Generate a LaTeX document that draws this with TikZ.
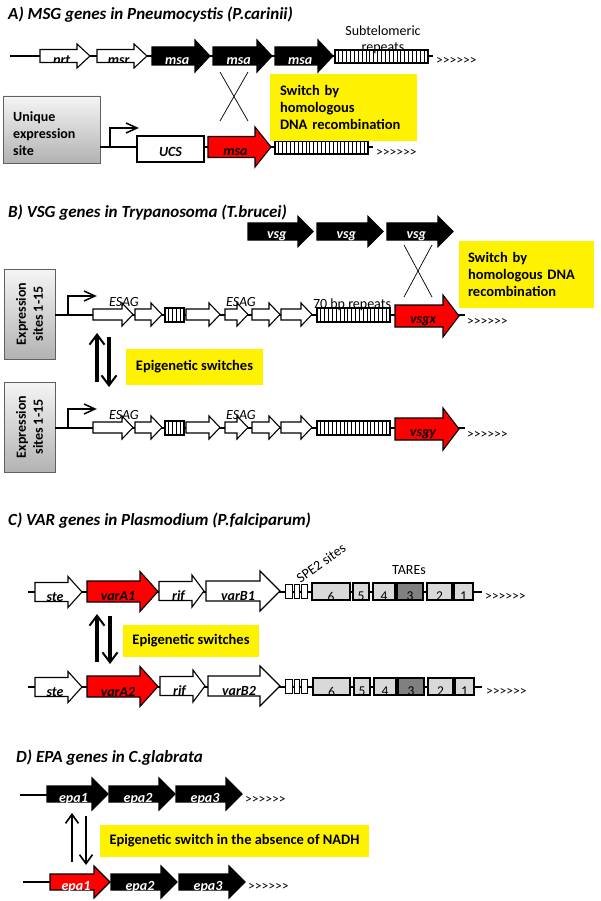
\documentclass[tikz,border=0pt]{standalone}
\usepackage{fontspec}
\setmainfont{Carlito}
\usepackage{tikz}
\usetikzlibrary{arrows.meta,calc,positioning}

% gene arrow: fill, x start, x tip, y, half body, half head, head length, label, label colour
\newcommand{\gene}[9]{%
  \filldraw[fill=#1, line width=1.1pt] (#2,#4-#5) -- (#3-#7,#4-#5) -- (#3-#7,#4-#6) -- (#3,#4)
    -- (#3-#7,#4+#6) -- (#3-#7,#4+#5) -- (#2,#4+#5) -- cycle;
  \begin{scope}
    \clip (#2,#4-#5) -- (#3-#7,#4-#5) -- (#3-#7,#4-#6) -- (#3,#4)
      -- (#3-#7,#4+#6) -- (#3-#7,#4+#5) -- (#2,#4+#5) -- cycle;
    \node[genelabel, text=#9] at ({(#2+#3-#7/2)/2},#4+5) {#8};
  \end{scope}}
% hatched repeats: x0, x1, y0, y1
\newcommand{\repeats}[4]{%
  \filldraw[fill=white, line width=1.1pt] (#1,#3) rectangle (#2,#4);
  \pgfmathtruncatemacro{\nrep}{(#2-#1)/4}
  \foreach \k in {1,...,\nrep}{\draw[line width=0.8pt] ({#1+(#2-#1)*\k/(\nrep+1)},#3) -- ({#1+(#2-#1)*\k/(\nrep+1)},#4);}}
% TARE block: x0, x1, y, fill, number
\newcommand{\tare}[5]{%
  \filldraw[fill=#4, line width=1.1pt] (#1,#3-8.5) rectangle (#2,#3+8.5);
  \begin{scope}
    \clip (#1,#3-8.5) rectangle (#2,#3+8.5);
    \node[numlabel] at ({(#1+#2)/2},#3+5) {#5};
  \end{scope}}
% promoter: x, y of line, y of bend, x of tip
\newcommand{\promoter}[4]{%
  \draw[line width=1.3pt] (#1,#2) -- (#1,#3) -- (#4-1,#3);
  \draw[line width=1.5pt] (#4-11,#3-5) -- (#4,#3) -- (#4-11,#3+5);}
\newcommand{\tailmarks}{>{}>{}>{}>{}>{}>}

\tikzset{
  chrom/.style={line width=2.6pt},
  genelabel/.style={inner sep=0pt, font=\fontsize{14}{15}\selectfont\bfseries\itshape},
  numlabel/.style={inner sep=0pt, font=\fontsize{13.5}{14}\selectfont},
  plain/.style={inner sep=0pt, align=center, font=\fontsize{14}{16}\selectfont},
  title/.style={anchor=west, inner sep=0pt, font=\fontsize{17}{19}\selectfont\bfseries\itshape},
  tail/.style={anchor=west, inner sep=0pt, font=\fontsize{13.5}{14}\selectfont},
  hint/.style={fill=yellow, inner sep=0pt, align=center, font=\fontsize{14.5}{17}\selectfont\bfseries},
  sitebox/.style={draw=gray!75!black, line width=0.9pt, top color=gray!8, bottom color=gray!60},
  sitetext/.style={inner sep=0pt, font=\fontsize{14}{17}\selectfont\bfseries},
  swapline/.style={line width=3.5pt, -{Straight Barb[length=10pt,width=15pt,line width=2pt]}},
  swapthin/.style={line width=2.2pt, -{Straight Barb[length=9pt,width=13pt,line width=1.6pt]}},
}

\begin{document}
\begin{tikzpicture}[x=1pt,y=-1pt]
\useasboundingbox (0,0) rectangle (600,901);

%%% A) Pneumocystis
\node[title] (titA) at (8,15) {A) MSG genes in Pneumocystis (P.carinii)};
\draw[chrom] (10,56) -- (433,56);
\gene{white}{40}{90}{56}{6.5}{12}{13}{prt}{black}
\gene{white}{97}{147}{56}{6.5}{12}{13}{msr}{black}
\gene{black}{152}{210}{56}{9}{16}{15}{msa}{white}
\gene{black}{213}{272}{56}{9}{16}{15}{msa}{white}
\gene{black}{275}{333}{56}{9}{16}{15}{msa}{white}
\repeats{335}{428}{50}{63}
\node[plain] (subtel) at (383,40) {Subtelomeric\\repeats};
\node[tail] (tailA1) at (436,61) {\tailmarks};

\draw[line width=0.7pt] (220,72) -- (248,121);
\draw[line width=0.7pt] (248,72) -- (220,121);

\draw[sitebox] (3,96) rectangle (100,163);
\node[sitetext, anchor=west, align=left] (uniq) at (13,134) {Unique\\expression\\site};
\draw[chrom] (100,147) -- (373,147);
\promoter{110}{147}{128}{137}
\filldraw[fill=white, line width=1.1pt] (137,136) rectangle (204,162);
\node[genelabel] (ucs) at (170.5,152) {UCS};
\gene{red}{208}{271}{147}{10.5}{20}{16}{msa}{black}
\repeats{275}{368}{141}{154}
\node[tail] (tailA2) at (376,153) {\tailmarks};
\node[hint, align=left, minimum width=147pt, minimum height=67pt, text width=127pt] (swA) at (343.5,107.5) {Switch by\\homologous\\DNA recombination};

%%% B) Trypanosoma
\node[title] (titB) at (8,213) {B) VSG genes in Trypanosoma (T.brucei)};
\gene{black}{248}{313}{231.5}{8.5}{15}{15}{vsg}{white}
\gene{black}{317}{383}{231.5}{8.5}{15}{15}{vsg}{white}
\gene{black}{387}{453}{231.5}{8.5}{15}{15}{vsg}{white}
\draw[line width=0.7pt] (404,245) -- (432,297);
\draw[line width=0.7pt] (432,245) -- (404,297);
\node[hint, align=left, minimum width=135pt, minimum height=67pt, text width=117pt] (swB) at (526.5,274.5) {Switch by\\homologous DNA\\recombination};

% expression site 1
\draw[sitebox] (4,269) rectangle (55,359);
\node[sitetext, rotate=90, align=center] (esB1) at (29.5,314) {Expression\\sites 1-15};
\draw[chrom] (55,315) -- (465,315);
\promoter{68}{315}{296}{95}
\gene{white}{93}{133}{314.5}{5.5}{11.5}{11}{}{black}
\gene{white}{135}{162}{314.5}{5.5}{11.5}{11}{}{black}
\repeats{165}{184}{308}{322}
\gene{white}{186}{220}{314.5}{5.5}{11.5}{11}{}{black}
\gene{white}{225}{248}{314.5}{5.5}{11.5}{11}{}{black}
\gene{white}{252}{280}{314.5}{5.5}{11.5}{11}{}{black}
\gene{white}{281}{312}{314.5}{5.5}{11.5}{11}{}{black}
\repeats{317}{390}{308}{322}
\gene{red}{395}{459}{316}{11}{21}{16}{vsgx}{black}
\node[plain, font=\fontsize{14}{16}\selectfont\itshape] (esagB1) at (124,302) {ESAG};
\node[plain, font=\fontsize{14}{16}\selectfont\itshape] (esagB2) at (241,302) {ESAG};
\node[plain] (bp70) at (352,305) {70 bp repeats};
\node[tail] (tailB1) at (467,322) {\tailmarks};

% epigenetic switch
\coordinate (upB0) at (97,382);
\coordinate (upB1) at (97,333);
\coordinate (dnB0) at (109,337);
\coordinate (dnB1) at (109,387);
\draw[swapline] (upB0) -- (upB1);
\draw[swapline] (dnB0) -- (dnB1);
\node[hint, minimum width=137pt, minimum height=36pt] (epiB) at (194.5,366.5) {Epigenetic switches};

% expression site 2
\draw[sitebox] (4,382) rectangle (55,472);
\node[sitetext, rotate=90, align=center] (esB2) at (29.5,427) {Expression\\sites 1-15};
\draw[chrom] (55,428) -- (465,428);
\promoter{68}{428}{409}{95}
\gene{white}{93}{133}{427.5}{5.5}{11.5}{11}{}{black}
\gene{white}{135}{162}{427.5}{5.5}{11.5}{11}{}{black}
\repeats{165}{184}{421}{435}
\gene{white}{186}{220}{427.5}{5.5}{11.5}{11}{}{black}
\gene{white}{225}{248}{427.5}{5.5}{11.5}{11}{}{black}
\gene{white}{252}{280}{427.5}{5.5}{11.5}{11}{}{black}
\gene{white}{281}{312}{427.5}{5.5}{11.5}{11}{}{black}
\repeats{317}{390}{421}{435}
\gene{red}{395}{459}{429}{11}{21}{16}{vsgy}{black}
\node[plain, font=\fontsize{14}{16}\selectfont\itshape] (esagB3) at (124,415) {ESAG};
\node[plain, font=\fontsize{14}{16}\selectfont\itshape] (esagB4) at (241,415) {ESAG};
\node[tail] (tailB2) at (467,435) {\tailmarks};

%%% C) Plasmodium
\node[title] (titC) at (8,521) {C) VAR genes in Plasmodium (P.falciparum)};
\node[plain, rotate=35] (spe2) at (321,563) {SPE2 sites};
\node[plain] (tares) at (409,570) {TAREs};

\draw[chrom] (28,592) -- (482,592);
\gene{white}{35}{82}{592}{9.5}{15.5}{14}{ste}{black}
\gene{red}{87}{158}{591.5}{10.5}{20}{18}{varA1}{black}
\gene{white}{159}{204}{591}{9.5}{16}{12}{rif}{black}
\gene{white}{206}{280}{591}{10}{20}{20}{varB1}{black}
\filldraw[fill=white, line width=1pt] (285,584) rectangle (292,598);
\filldraw[fill=white, line width=1pt] (294,584) rectangle (299,598);
\filldraw[fill=white, line width=1pt] (301,584) rectangle (307,598);
\tare{312}{350}{591.5}{gray!30}{6}
\tare{353}{369}{591.5}{gray!30}{5}
\tare{373}{395}{591.5}{gray!30}{4}
\tare{397}{423}{591.5}{gray}{3}
\tare{427}{452}{591.5}{gray!30}{2}
\tare{454}{473}{591.5}{gray!30}{1}
\node[tail] (tailC1) at (485,597) {\tailmarks};

\coordinate (upC0) at (97,662);
\coordinate (upC1) at (97,614);
\coordinate (dnC0) at (110,616);
\coordinate (dnC1) at (110,664);
\draw[swapline] (upC0) -- (upC1);
\draw[swapline] (dnC0) -- (dnC1);
\node[hint, minimum width=136pt, minimum height=32pt] (epiC) at (191,641) {Epigenetic switches};

\draw[chrom] (28,687) -- (482,687);
\gene{white}{35}{82}{687}{9.5}{15.5}{14}{ste}{black}
\gene{red}{87}{158}{686.5}{10.5}{20}{18}{varA2}{black}
\gene{white}{160}{205}{686}{9.5}{16}{12}{rif}{black}
\gene{white}{208}{280}{686}{10}{20}{20}{varB2}{black}
\filldraw[fill=white, line width=1pt] (285,679) rectangle (292,693);
\filldraw[fill=white, line width=1pt] (294,679) rectangle (299,693);
\filldraw[fill=white, line width=1pt] (301,679) rectangle (307,693);
\tare{313}{350}{686.5}{gray!30}{6}
\tare{354}{370}{686.5}{gray!30}{5}
\tare{374}{396}{686.5}{gray!30}{4}
\tare{398}{424}{686.5}{gray}{3}
\tare{428}{453}{686.5}{gray!30}{2}
\tare{455}{474}{686.5}{gray!30}{1}
\node[tail] (tailC2) at (486,692) {\tailmarks};

%%% D) C.glabrata
\node[title] (titD) at (16,758) {D) EPA genes in C.glabrata};
\draw[line width=2.2pt] (20,795) -- (60,795);
\gene{black}{47}{108}{794}{8}{16}{16}{epa1}{white}
\gene{black}{109}{175}{794}{8}{16}{16}{epa2}{white}
\gene{black}{176}{242}{794}{8}{16}{16}{epa3}{white}
\node[tail] (tailD1) at (245,800) {\tailmarks};

\coordinate (upD0) at (72,862);
\coordinate (upD1) at (72,813);
\coordinate (dnD0) at (86,816);
\coordinate (dnD1) at (86,865);
\draw[swapthin] (upD0) -- (upD1);
\draw[swapthin] (dnD0) -- (dnD1);
\node[hint, minimum width=269pt, minimum height=32pt] (epiD) at (234.5,841) {Epigenetic switch in the absence of NADH};

\draw[line width=2.2pt] (23,882) -- (60,882);
\gene{red}{50}{110}{882}{8}{16}{16}{epa1}{white}
\gene{black}{111}{177}{882}{8}{16}{16}{epa2}{white}
\gene{black}{179}{245}{882}{8}{16}{16}{epa3}{white}
\node[tail] (tailD2) at (248,887) {\tailmarks};

\end{tikzpicture}
\end{document}
